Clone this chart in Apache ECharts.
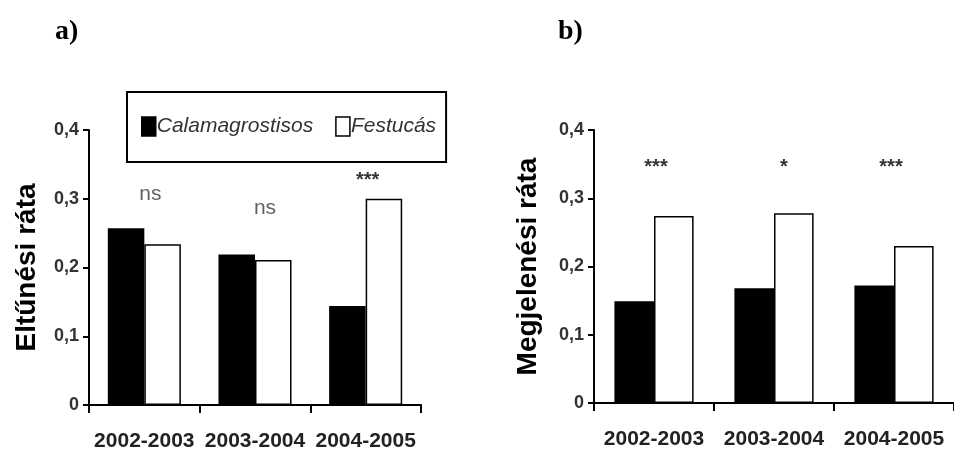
<!DOCTYPE html>
<html>
<head>
<meta charset="utf-8">
<script src="https://cdn.jsdelivr.net/npm/echarts@6/dist/echarts.min.js"></script>
<style>
  html, body { margin: 0; padding: 0; background: #fff; }
  #chart { width: 954px; height: 452px; }
</style>
</head>
<body>
<div id="chart"></div>
<script>
// Data
var categories = ['2002-2003', '2003-2004', '2004-2005'];
var seriesNames = ['Calamagrostisos', 'Festucás'];

// a) Eltűnési ráta
var leftCalama = [0.257, 0.219, 0.144];
var leftFestuca = [0.234, 0.211, 0.300];
var leftSig = ['ns', 'ns', '***'];
var leftSigY = [0.306, 0.286, 0.327];

// b) Megjelenési ráta
var rightCalama = [0.149, 0.168, 0.172];
var rightFestuca = [0.274, 0.278, 0.230];
var rightSig = ['***', '*', '***'];
var rightSigY = [0.345, 0.345, 0.345];

var yTicks = { min: 0, max: 0.4, interval: 0.1 };

var chart = echarts.init(document.getElementById('chart'));

function makeXAxis(gridIndex) {
    return {
        type: 'category',
        gridIndex: gridIndex,
        data: categories,
        boundaryGap: true,
        axisLine: { lineStyle: { color: '#000', width: 2 } },
        axisTick: { show: true, inside: false, length: 8, lineStyle: { color: '#000', width: 2 } },
        axisLabel: {
            interval: 0,
            margin: 26,
            color: '#222',
            fontFamily: 'Liberation Sans',
            fontWeight: 'bold',
            fontSize: 21
        }
    };
}

function makeYAxis(gridIndex, title, gap) {
    return {
        type: 'value',
        gridIndex: gridIndex,
        min: yTicks.min,
        max: yTicks.max,
        interval: yTicks.interval,
        name: title,
        nameLocation: 'middle',
        nameGap: gap,
        nameTextStyle: {
            color: '#000',
            fontFamily: 'Liberation Sans',
            fontWeight: 'bold',
            fontSize: 28
        },
        splitLine: { show: false },
        axisLine: { show: true, lineStyle: { color: '#000', width: 2 } },
        axisTick: { show: true, length: 6, lineStyle: { color: '#000', width: 2 } },
        axisLabel: {
            margin: 10,
            color: '#333',
            fontFamily: 'Liberation Sans',
            fontWeight: 'bold',
            fontSize: 18,
            formatter: function (v) {
                return String(Math.round(v * 10) / 10).replace('.', ',');
            }
        }
    };
}

function barSeries(name, data, idx, fill) {
    return {
        name: name,
        type: 'bar',
        xAxisIndex: idx,
        yAxisIndex: idx,
        data: data,
        barWidth: '33%',
        barGap: '0%',
        itemStyle: { color: fill, borderColor: '#000', borderWidth: 1.5 }
    };
}

var nsStyle = { color: '#3a3a3a', fontFamily: 'Liberation Sans', fontWeight: 'normal', fontSize: 21 };
var starStyle = { color: '#000', fontFamily: 'Liberation Sans', fontWeight: 'bold', fontSize: 20 };

function sigSeries(labels, heights, idx, offsets) {
    return {
        type: 'scatter',
        xAxisIndex: idx,
        yAxisIndex: idx,
        symbolSize: 0,
        silent: true,
        data: categories.map(function (c, i) {
            var style = labels[i] === 'ns' ? nsStyle : starStyle;
            return { value: [c, heights[i]], label: Object.assign({ offset: [offsets[i], 0] }, style) };
        }),
        label: {
            show: true,
            position: 'inside',
            formatter: function (p) { return labels[p.dataIndex]; }
        }
    };
}

var option = {
    backgroundColor: '#fff',
    animation: false,
    title: [
        { text: 'a)', left: 50, top: 13, textStyle: { fontFamily: 'Liberation Serif', fontWeight: 'bold', fontSize: 28, color: '#000' } },
        { text: 'b)', left: 553, top: 13, textStyle: { fontFamily: 'Liberation Serif', fontWeight: 'bold', fontSize: 28, color: '#000' } }
    ],
    legend: {
        data: seriesNames,
        left: 127,
        top: 92,
        padding: [24, 10, 25, 14],
        borderColor: '#000',
        borderWidth: 2,
        itemWidth: 14,
        itemHeight: 19,
        itemGap: 22,
        icon: 'rect',
        itemStyle: { borderColor: '#000', borderWidth: 1.5 },
        textStyle: { fontFamily: 'Liberation Sans', fontStyle: 'italic', fontSize: 21, color: '#333', padding: [0, 0, 0, -4] }
    },
    grid: [
        { left: 89, top: 130, width: 332, height: 278 },
        { left: 594, top: 130, width: 369, height: 273 }
    ],
    xAxis: [makeXAxis(0), makeXAxis(1)],
    yAxis: [makeYAxis(0, 'Eltűnési ráta', 48), makeYAxis(1, 'Megjelenési ráta', 52)],
    series: [
        barSeries(seriesNames[0], leftCalama, 0, '#000'),
        barSeries(seriesNames[1], leftFestuca, 0, '#fff'),
        barSeries(seriesNames[0], rightCalama, 1, '#000'),
        barSeries(seriesNames[1], rightFestuca, 1, '#fff'),
        sigSeries(leftSig, leftSigY, 0, [6, 10, 2]),
        sigSeries(rightSig, rightSigY, 1, [2, 10, -3])
    ]
};

chart.setOption(option);
</script>
</body>
</html>
